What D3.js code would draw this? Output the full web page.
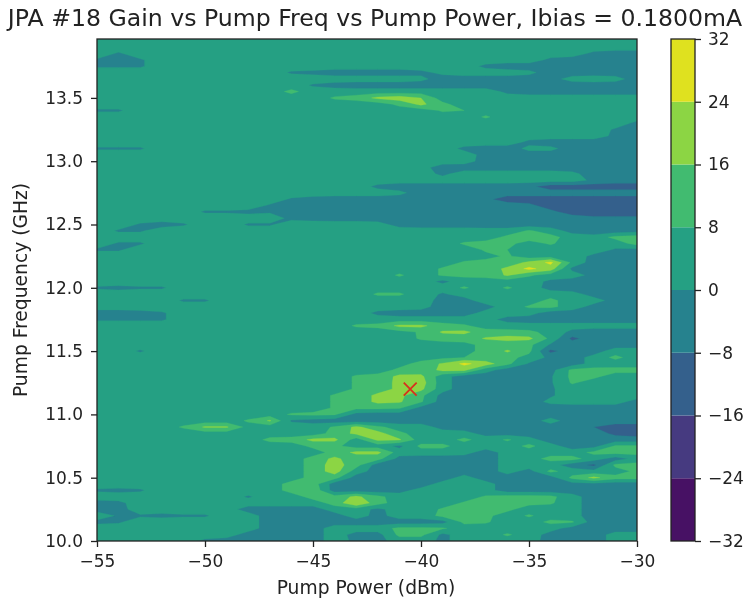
<!DOCTYPE html>
<html>
<head>
<meta charset="utf-8">
<script src="https://cdn.jsdelivr.net/npm/d3@7"></script>
<style>
  html, body { margin: 0; padding: 0; background: #fff; }
  svg { display: block; font-family: "DejaVu Sans", sans-serif; filter: blur(0.45px); }
</style>
</head>
<body>
<div id="chart"></div>
<script>
// Axis values
const powerTicks = [-55, -50, -45, -40, -35, -30]
const freqTicks = [10.0, 10.5, 11.0, 11.5, 12.0, 12.5, 13.0, 13.5]
const levels = [-32, -24, -16, -8, 0, 8, 16, 24, 32]
const levelColors = ['#471164', '#463a80', '#34608c', '#26828e', '#25a083', '#41bb70', '#8cd544', '#dfe11f']
const titleText = 'JPA #18 Gain vs Pump Freq vs Pump Power, Ibias = 0.1800mA'

// Grid of the gain map: one column per dBm, one row per 0.05 GHz (top row first)
const powerFirst = -55
const powerStep = 1
const freqFirst = 13.95
const freqStep = -0.05
const best = {power: -40.5, freq: 11.2}

const gainRows = [
  [4,4,4,4,4,4,4,4,4,4,4,4,4, 4,4,4,4,4,4,4,4,4,4,4,4,4],
  [4,4,4,4,4,4,4,4,4,4,4,4,4, 4,4,4,4,4,4,4,4,4,4,4,4,4],
  [4,-1,4,4,4,4,4,4,4,4,4,4,4, 4,4,4,4,4,4,4,4,4,4,-2,-4,-4],
  [-1,-2,-1,4,4,4,4,4,4,4,4,4,4, 4,4,4,4,4,4,4,4,-2,-4,-4,-4,-4],
  [-1,-1,-1,4,4,4,4,4,4,4,4,4,4, 4,4,4,4,4,-2,-4,-4,-4,-4,-4,-4,-4],
  [4,4,4,4,4,4,4,4,4,-1,-2,-4,-4, -4,-4,-2,2,4,4,4,2,-4,-4,-4,-4,-4],
  [4,4,4,4,4,4,4,4,4,4,4,4,4, 4,4,2,-4,-4,-4,-4,-4,-3,3,4,3,-4],
  [4,4,4,4,4,4,4,4,4,4,-1,-3,-4, -4,-4,-4,-4,-4,-4,-4,-4,-4,-4,-4,-4,-4],
  [4,4,4,4,4,4,4,4,4,10,4,4,4, 4,4,4,4,4,4,-2,-4,-4,-4,-4,-4,-4],
  [4,4,4,4,4,4,4,4,4,4,4,9,11, 18,20,16,4,4,4,4,4,4,4,4,4,4],
  [4,4,4,4,4,4,4,4,4,4,4,4,4, 4,10,18,10,4,4,4,4,4,4,4,4,4],
  [-1,-1,4,4,4,4,4,4,4,4,4,4,4, 4,4,4,9,8,4,4,4,4,4,4,4,4],
  [4,4,4,4,4,4,4,4,4,4,4,4,4, 4,4,4,4,4,9,4,4,4,4,4,4,4],
  [4,4,4,4,4,4,4,4,4,4,4,4,4, 4,4,4,4,4,4,4,4,4,4,4,4,-2],
  [4,4,4,4,4,4,4,4,4,4,4,4,4, 4,4,4,4,4,4,4,4,4,4,4,-1,-3],
  [4,4,4,4,4,4,4,4,4,4,4,4,4, 4,4,4,4,4,4,4,4,4,4,4,-2,-4],
  [4,4,4,4,4,4,4,4,4,4,4,4,4, 4,4,4,4,4,4,4,-2,-4,-4,-4,-4,-4],
  [-1,-1,-1,4,4,4,4,4,4,4,4,4,4, 4,4,4,4,-2,-4,-4,2,2,-4,-4,-4,-4],
  [4,4,4,4,4,4,4,4,4,4,4,4,4, 4,4,4,4,4,-3,-4,-4,-4,-4,-4,-4,-4],
  [4,4,4,4,4,4,4,4,4,4,4,4,4, 4,4,4,4,3,-3,-4,-4,-4,-4,-4,-4,-4],
  [4,4,4,4,4,4,4,4,4,4,4,4,4, 4,4,3,-4,-4,-4,-4,-4,-4,-4,-4,-4,-4],
  [4,4,4,4,4,4,4,4,4,4,4,4,4, 4,4,4,-2,4,4,4,4,4,2,-4,-4,-4],
  [4,4,4,4,4,4,4,4,4,4,4,4,4, 4,4,4,4,4,4,4,4,4,4,-2,-4,-4],
  [4,4,4,4,4,4,4,4,4,4,4,4,4, -2,-4,-4,-4,-4,-4,-4,-6,-12,-12,-12,-12,-12],
  [4,4,4,4,4,4,4,4,4,4,4,4,4, 4,2,-4,-4,-4,-4,-4,-4,-4,-4,-4,-4,-4],
  [4,4,4,4,4,4,4,4,4,-1,-3,-4,-4, -4,-4,-4,-4,-4,-6,-12,-12,-12,-12,-12,-12,-12],
  [4,4,4,4,4,4,4,4,-1,-2,-4,-4,-4, -4,-4,-4,-4,-4,-4,-4,-6,-12,-12,-14,-14,-14],
  [4,4,4,4,4,-1,-1,-2,-1,-1,-1,-3,-4, -4,-4,-4,-4,-4,-4,-4,-4,-6,-12,-14,-14,-14],
  [4,4,4,4,4,4,4,4,4,-2,-3,-4,-4, -4,-4,-4,-4,-4,-4,-4,-4,-4,-4,-6,-6,-6],
  [4,4,-1,-3,-1,4,4,-1,-1,4,4,4,4, 3,-3,-4,-4,-4,-4,-4,-4,-4,-4,-4,-4,-4],
  [4,-1,-1,4,4,4,4,4,4,4,4,4,4, 4,4,4,4,4,3,3,9,4,-3,-6,-4,-3],
  [4,4,4,4,4,4,4,4,4,4,4,4,4, 4,4,4,4,4,4,10,12,11,4,4,10,12],
  [4,-1,-1,4,4,4,4,4,4,4,4,4,4, 4,4,4,4,9,11,10,5,9,4,4,4,11],
  [-1,-1,4,4,4,4,4,4,4,4,4,4,4, 4,4,4,4,4,9,8,4,4,4,4,-1,-2],
  [4,4,4,4,4,4,4,4,4,4,4,4,4, 4,4,4,4,4,6,9,4,4,4,-2,-4,-4],
  [4,4,4,4,4,4,4,4,4,4,4,4,4, 4,4,4,4,9,10,11,18,26,6,-4,-4,-4],
  [4,4,4,4,4,4,4,4,4,4,4,4,4, 4,4,4,9,11,11,18,26,20,-2,-4,-4,-4],
  [4,4,4,4,4,4,4,4,4,4,4,4,4, 4,9,4,9,10,11,17,9,5,4,-3,-4,-4],
  [4,4,4,4,4,4,4,4,4,4,4,4,4, 4,4,4,-2,4,4,4,4,-2,-4,-4,-4,-4],
  [-1,-2,-1,-1,4,4,4,4,4,4,4,4,4, 4,4,4,4,9,4,9,4,-3,-4,-4,-4,-4],
  [4,4,4,4,4,4,4,4,4,4,4,4,4, 9,9,4,-1,3,4,4,4,4,3,-3,-4,-4],
  [4,4,4,4,-1,-1,4,4,4,4,4,4,4, 4,4,4,-3,-3,4,4,4,10,4,3,-3,-4],
  [4,4,4,4,4,4,4,4,4,4,4,4,4, 4,4,3,-4,-4,-3,4,9,10,4,-3,-4,-4],
  [-4,-4,-3,-1,4,4,4,4,4,4,4,4,4, -2,-4,-4,-4,-4,3,4,3,-4,-4,-4,-4,-4],
  [-1,-1,-1,-1,4,4,4,4,4,4,4,4,4, 4,4,4,4,4,3,-3,-4,-4,-4,-4,-4,-4],
  [4,4,4,4,4,4,4,4,4,4,4,4,9, 10,18,18,11,9,5,4,3,3,3,3,3,3],
  [4,4,4,4,4,4,4,4,4,4,4,4,4, 4,5,9,17,18,11,11,10,5,-2,-4,-4,-4],
  [4,4,4,4,4,4,4,4,4,4,4,4,4, 4,4,9,11,11,17,19,18,6,-10,-4,-4,-4],
  [4,4,4,4,4,4,4,4,4,4,4,4,4, 4,4,4,5,6,10,11,10,-1,-4,-4,-4,-4],
  [4,4,-1,4,4,4,4,4,4,4,4,4,4, 4,4,4,5,6,10,17,10,-10,-4,-4,4,4],
  [4,4,4,4,4,4,4,4,4,4,4,4,4, 4,4,4,6,8,10,11,5,-2,-4,3,10,4],
  [4,4,4,4,4,4,4,4,4,4,4,4,4, 4,5,11,17,26,20,10,-1,-4,-4,3,4,4],
  [4,4,4,4,4,4,4,4,4,4,4,4,4, 4,10,11,18,18,3,-4,-4,-3,10,11,11,11],
  [4,4,4,4,4,4,4,4,4,4,4,4,9, 11,18,18,3,-4,-4,-4,-4,-1,10,10,4,4],
  [4,4,4,4,4,4,4,4,4,4,4,4,9, 12,18,20,3,-4,-4,-4,-4,-1,9,4,4,4],
  [4,4,4,4,4,4,4,4,4,4,4,4,9, 12,18,18,3,-4,-4,-4,-4,-1,4,4,4,4],
  [4,4,4,4,4,4,4,4,4,4,4,9,11, 18,18,10,-3,-4,-4,-4,-4,-1,4,4,4,4],
  [4,4,4,4,4,4,4,4,4,4,4,9,11, 18,17,9,-4,-4,-4,-4,-4,2,3,3,3,-3],
  [4,4,4,4,4,4,4,4,4,4,4,9,10, 10,9,-3,-4,-4,-4,-4,-4,-4,-4,-4,-4,-4],
  [4,4,4,4,4,4,4,4,4,9,10,9,-3, -4,-4,-4,-4,-4,-4,-4,-4,-4,-4,-4,-4,-4],
  [4,4,4,4,4,4,4,9,17,-1,-3,-4,-4, -4,-4,-4,-4,-4,-4,-4,-4,3,-4,-4,-4,-4],
  [4,4,4,4,9,17,17,5,4,4,4,9,18, 10,4,4,-3,-4,-4,-4,-4,-4,-4,-8,-12,-12],
  [4,4,4,4,4,4,4,4,4,4,4,11,18, 19,10,4,4,3,-3,-4,-4,-4,-4,-4,-10,-12],
  [4,4,4,4,4,4,4,4,10,11,18,18,4, 18,17,4,4,10,4,9,3,-4,-4,-4,-4,-4],
  [4,4,4,4,4,4,4,4,4,4,10,10,4, 4,-2,10,10,4,4,4,10,3,-4,-3,9,9],
  [4,4,4,4,4,4,4,4,4,4,4,11,18, 18,4,4,4,3,-4,3,4,4,4,10,11,11],
  [4,4,4,4,4,4,4,4,4,4,11,18,11, 11,-3,-4,-4,-4,-4,3,4,11,11,4,-4,3],
  [4,4,4,4,4,4,4,4,4,4,11,20,11, -4,-4,-4,-4,-4,-4,3,4,3,-4,-10,10,11],
  [4,4,4,4,4,4,4,4,4,4,11,20,4, -4,-4,-4,-4,-4,-4,3,-3,10,4,3,4,10],
  [4,4,4,4,4,4,4,4,4,4,11,11,-4, -4,-4,-4,-4,3,-4,-4,-4,-4,10,18,11,11],
  [4,4,4,4,4,4,4,4,4,11,12,-4,-4, -4,-4,-4,3,4,3,-4,-4,-4,-3,-3,-4,-4],
  [-1,-2,-1,4,4,4,4,4,4,11,14,-4,-4, -4,-3,3,4,4,3,-4,-4,-4,-4,-4,-4,-4],
  [4,4,4,4,4,4,4,-1,4,4,11,11,18, 10,4,4,4,4,9,11,11,10,3,-4,-4,-4],
  [-3,-2,4,4,4,4,4,4,4,4,4,11,24, 11,4,4,4,9,11,11,10,9,3,-4,-4,-4],
  [-3,-3,4,4,4,4,4,-4,-4,-4,-4,4,4, -2,4,4,9,11,11,10,4,4,3,-4,-4,-4],
  [4,-1,-1,-2,-1,-1,4,4,-4,-4,-4,-4,4, -3,4,4,10,10,10,4,9,4,3,-4,-4,-4],
  [-2,-1,4,4,4,4,4,4,-4,-4,-4,-4,-4, -4,-4,-4,-3,10,9,4,4,10,9,-4,-4,-4],
  [4,4,4,4,4,4,4,4,-4,-4,-4,4,4, 4,10,10,9,4,4,4,4,3,-3,-4,-4,-4],
  [4,4,4,4,4,4,4,-4,-4,-4,-4,4,-3, -3,10,10,-2,4,4,9,4,-3,-4,-4,3,3],
  [4,4,4,4,4,-2,-4,-4,-4,-4,-4,4,-2, -3,4,4,-2,4,4,4,4,-4,-4,-4,3,3]
]

// Chart layout in the figure
const width = 749
const height = 601
const margin = {left: 97, top: 39, right: 112, bottom: 60}
const innerWidth = width - margin.left - margin.right
const innerHeight = height - margin.top - margin.bottom
const barLeft = 671
const barWidth = 24
const fontFamily = '"DejaVu Sans", sans-serif'
const tickFont = 17
const labelFont = 18.7
const titleFont = 23.6
const frameColor = '#222'

const svg = d3.select('#chart').append('svg')
  .attr('width', width)
  .attr('height', height)

const defs = svg.append('defs')
defs.append('clipPath').attr('id', 'plot-clip')
  .append('rect').attr('width', innerWidth).attr('height', innerHeight)

const xScale = d3.scaleLinear().domain([-55, -30]).range([0, innerWidth])
const yScale = d3.scaleLinear().domain([10, 10 + innerHeight / 126.6]).range([innerHeight, 0])

const gPlot = svg.append('g').attr('transform', `translate(${margin.left},${margin.top})`)

// Filled contours: d3.contours gives grid coordinates, with values sitting on cell centres
const nCols = gainRows[0].length
const nRows = gainRows.length
const contours = d3.contours()
  .size([nCols, nRows])
  .thresholds(levels.slice(0, -1))(gainRows.flat())

const gridToPlot = d3.geoTransform({
  point: function(c, r) {
    this.stream.point(
      xScale(powerFirst + (c - 0.5) * powerStep),
      yScale(freqFirst + (r - 0.5) * freqStep)
    )
  }
})
const contourPath = d3.geoPath(gridToPlot)

const gFill = gPlot.append('g').attr('clip-path', 'url(#plot-clip)')
gFill.selectAll('path')
  .data(contours)
  .join('path')
  .attr('d', contourPath)
  .attr('fill', (d, i) => levelColors[i])
  .attr('stroke', (d, i) => levelColors[i])
  .attr('stroke-width', 0.3)

// Marker at the best gain point
gPlot.append('path')
  .attr('d', d3.symbol(d3.symbolTimes).size(110))
  .attr('transform', `translate(${xScale(best.power)},${yScale(best.freq)})`)
  .attr('fill', 'none')
  .attr('stroke', '#d8301c')
  .attr('stroke-width', 1.8)

// Axes (d3 sets its own font on the axis group, so override it here)
const fmtMinus = d => String(d).replace('-', '\u2212')
function styleAxis(g) {
  g.attr('font-family', fontFamily)
  g.selectAll('text').style('font-size', `${tickFont}px`).attr('fill', '#222')
  g.selectAll('line').attr('stroke', frameColor).attr('stroke-width', 1.3)
  g.select('.domain').remove()
}

gPlot.append('g')
  .attr('transform', `translate(0,${innerHeight})`)
  .call(d3.axisBottom(xScale).tickValues(powerTicks).tickSize(6).tickPadding(8).tickFormat(fmtMinus))
  .call(styleAxis)

gPlot.append('g')
  .call(d3.axisLeft(yScale).tickValues(freqTicks).tickSize(6).tickPadding(8).tickFormat(d3.format('.1f')))
  .call(styleAxis)

gPlot.append('rect')
  .attr('width', innerWidth)
  .attr('height', innerHeight)
  .attr('fill', 'none')
  .attr('stroke', frameColor)
  .attr('stroke-width', 1.3)

// Title and axis labels
svg.append('text')
  .attr('x', 375)
  .attr('y', 26)
  .attr('text-anchor', 'middle')
  .style('font-size', `${titleFont}px`)
  .attr('fill', '#222')
  .text(titleText)

svg.append('text')
  .attr('x', 366)
  .attr('y', 594)
  .attr('text-anchor', 'middle')
  .style('font-size', `${labelFont}px`)
  .attr('fill', '#222')
  .text('Pump Power (dBm)')

svg.append('text')
  .attr('transform', `translate(27,${margin.top + innerHeight / 2}) rotate(270)`)
  .attr('text-anchor', 'middle')
  .style('font-size', `${labelFont}px`)
  .attr('fill', '#222')
  .text('Pump Frequency (GHz)')

// Colour bar
const barScale = d3.scaleLinear().domain([-32, 32]).range([margin.top + innerHeight, margin.top])
const gBar = svg.append('g')

gBar.selectAll('rect')
  .data(d3.pairs(levels))
  .join('rect')
  .attr('x', barLeft)
  .attr('width', barWidth)
  .attr('y', d => barScale(d[1]))
  .attr('height', d => barScale(d[0]) - barScale(d[1]))
  .attr('fill', (d, i) => levelColors[i])

gBar.append('rect')
  .attr('x', barLeft)
  .attr('y', barScale(32))
  .attr('width', barWidth)
  .attr('height', barScale(-32) - barScale(32))
  .attr('fill', 'none')
  .attr('stroke', frameColor)
  .attr('stroke-width', 1.3)

gBar.append('g')
  .attr('transform', `translate(${barLeft + barWidth},0)`)
  .call(d3.axisRight(barScale).tickValues(levels).tickSize(6).tickPadding(7).tickFormat(fmtMinus))
  .call(styleAxis)
</script>
</body>
</html>
